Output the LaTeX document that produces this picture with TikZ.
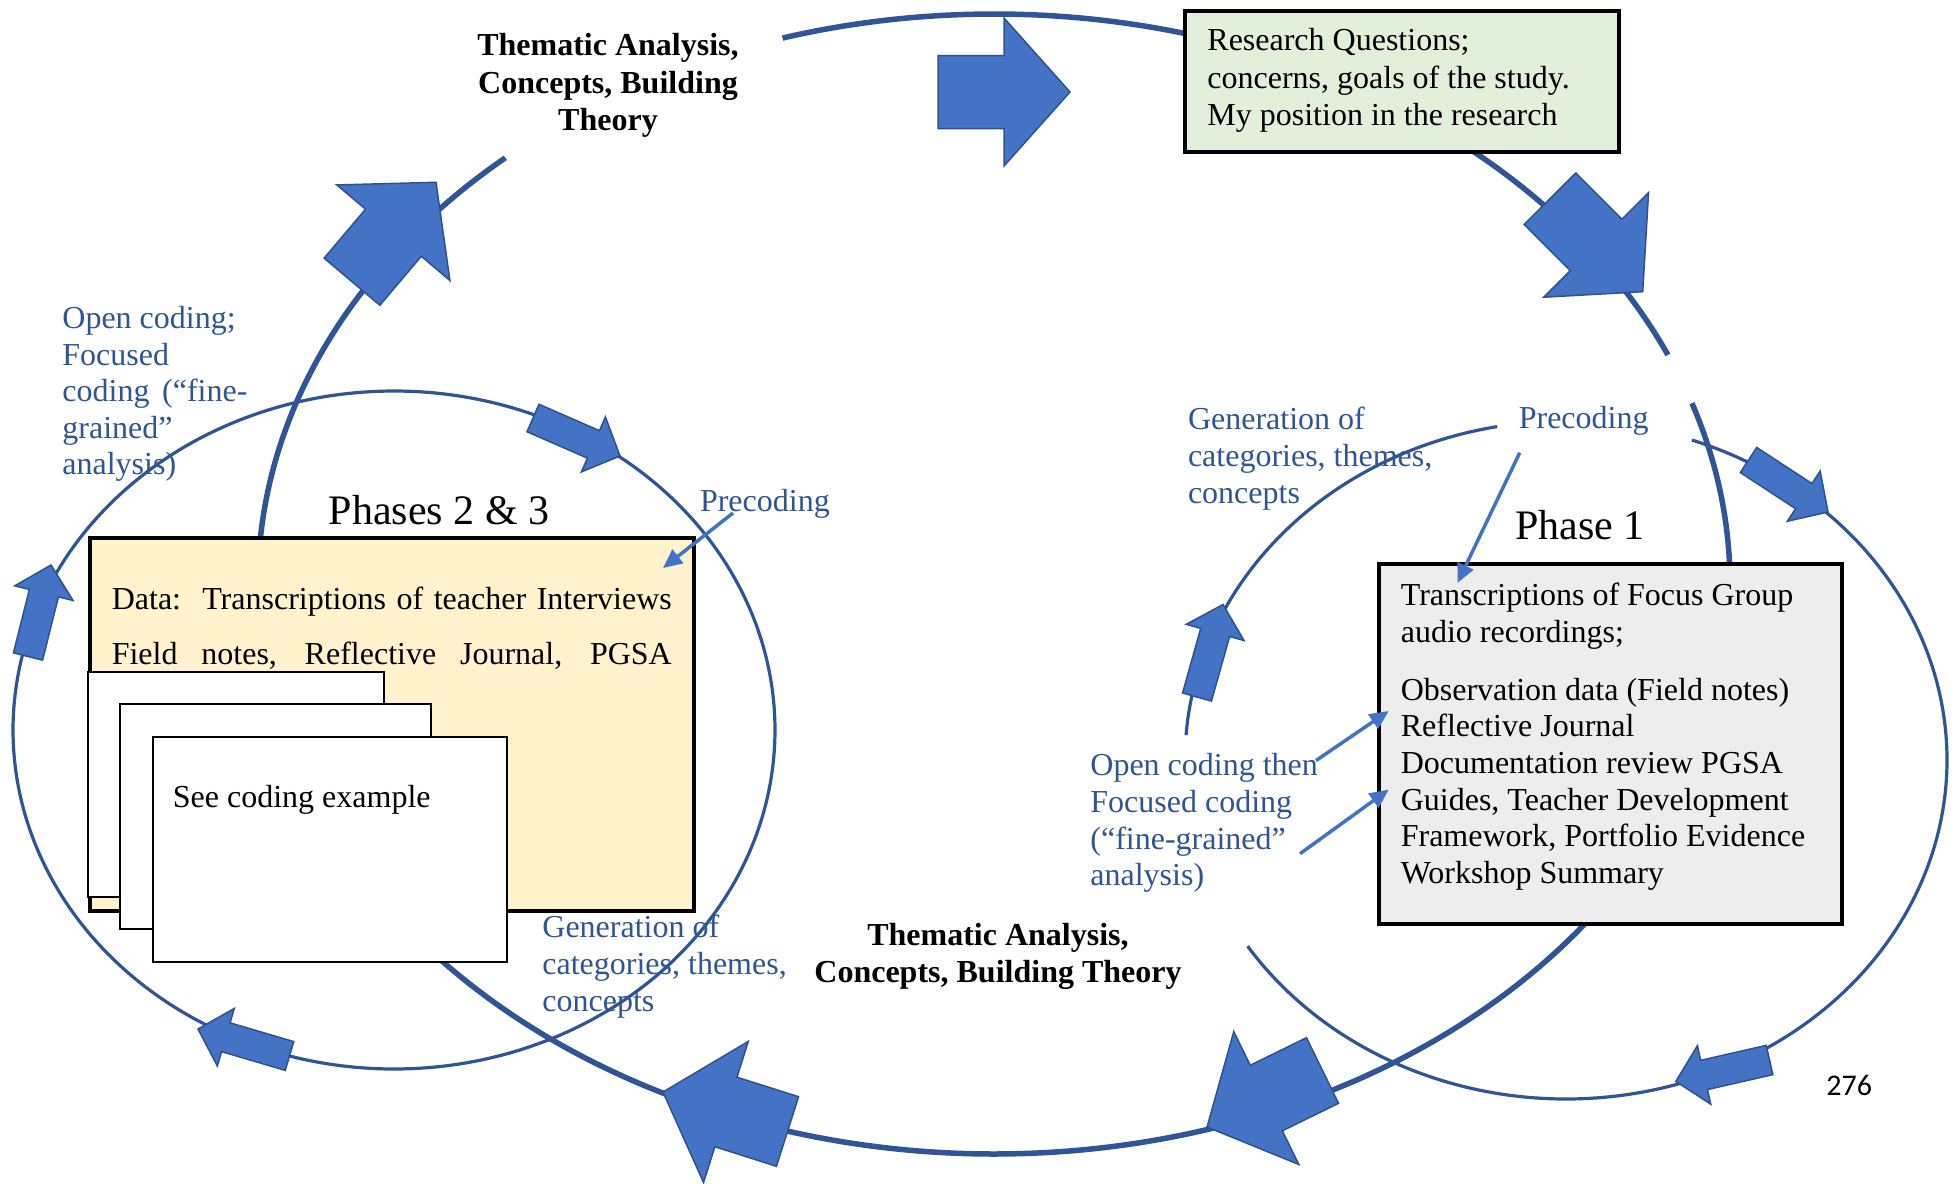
\documentclass[tikz,border=0pt]{standalone}
\usepackage{fontspec}
\setmainfont{Liberation Serif}
\newfontfamily\pagenumfont{Carlito}
\usetikzlibrary{calc,arrows.meta}

\definecolor{loopblue}{HTML}{2F5597}
\definecolor{arrowfill}{HTML}{4472C4}
\definecolor{arrowedge}{HTML}{2F528F}
\definecolor{labelblue}{HTML}{2F5597}
\definecolor{greenfill}{HTML}{E2EFDA}
\definecolor{yellowfill}{HTML}{FFF2CC}
\definecolor{grayfill}{HTML}{EDEDED}

\tikzset{
  bigloop/.style={draw=loopblue, line width=2.75pt},
  thinloop/.style={draw=loopblue, line width=1.6pt},
  blockarrow/.style={fill=arrowfill, draw=arrowedge, line width=0.75pt, line join=miter},
  databox/.style={draw=black, line width=1.8pt, inner ysep=0pt, anchor=north west},
  card/.style={draw=black, fill=white, line width=0.9pt, inner sep=0pt, anchor=north west},
  bluetext/.style={text=labelblue, inner sep=0pt, font=\fontsize{16}{18.5}\selectfont},
  boldtext/.style={inner sep=0pt, font=\fontsize{16}{18.75}\selectfont\bfseries},
  phasetitle/.style={inner sep=0pt, font=\fontsize{21}{25}\selectfont},
  pointer/.style={draw=arrowfill, line width=1.75pt, -{Triangle[length=9.5pt,width=8.5pt]}},
}

% block arrow: tail, tip, head length, shaft half width, head half width
\newcommand\flowarrow[5]{%
  \coordinate (fa-tail) at (#1);
  \coordinate (fa-tip) at (#2);
  \coordinate (fa-neck) at ($(fa-tip)!#3!(fa-tail)$);
  \path[blockarrow]
    ($(fa-tail)!#4!90:(fa-tip)$) -- ($(fa-neck)!#4!90:(fa-tip)$) --
    ($(fa-neck)!#5!90:(fa-tip)$) -- (fa-tip) --
    ($(fa-neck)!#5!-90:(fa-tip)$) -- ($(fa-neck)!#4!-90:(fa-tip)$) --
    ($(fa-tail)!#4!-90:(fa-tip)$) -- cycle;
}
\newcommand\bigflow[2]{\flowarrow{#1}{#2}{33pt}{18.25pt}{37pt}}
\newcommand\smallflow[2]{\flowarrow{#1}{#2}{14.5pt}{7.5pt}{15pt}}

\begin{document}
\begin{tikzpicture}[x=0.5pt, y=-0.5pt]
  \useasboundingbox (0,0) rectangle (1957,1183);
  \fill[white] (0,0) rectangle (1957,1183);

  % large outer cycle
  \draw[bigloop] plot[domain=131.6:378.5, samples=240, smooth] ({994+736*cos(\x)},{584-570*sin(\x)});
  \draw[bigloop] plot[domain=383.7:466.7, samples=90, smooth] ({994+736*cos(\x)},{584-570*sin(\x)});

  % cycle of phases 2 and 3
  \draw[thinloop] plot[domain=0:360, samples=240, smooth] ({394+381*cos(\x)},{730-339*sin(\x)}) -- cycle;

  % cycle of phase 1
  \draw[thinloop] plot[domain=100.4:175.8, samples=80, smooth] ({1566+381*cos(\x)},{760-339*sin(\x)});
  \draw[thinloop] plot[domain=213.3:430.7, samples=220, smooth] ({1566+381*cos(\x)},{760-339*sin(\x)});

  % boxes
  \node[databox, fill=greenfill, inner xsep=11.3pt, font=\fontsize{16}{18.6}\selectfont] (rq) at (1183,9)
    {\parbox[c][70.5pt][t]{194.4pt}{\raggedright\vspace*{7pt}\strut Research Questions;\\concerns, goals of the study.\\My position in the research}};

  \node[databox, fill=yellowfill, inner xsep=11pt, font=\fontsize{16}{27.5}\selectfont] (phase23) at (88,536)
    {\parbox[c][186.5pt][t]{280pt}{\vspace*{16.75pt}\strut\makebox[280pt][s]{Data:\ \ Transcriptions of teacher Interviews}\par
     \makebox[280pt][s]{Field notes, Reflective Journal, PGSA}}};

  \node[card, minimum width=148pt, minimum height=112.5pt] (card1) at (87,671) {};
  \node[card, minimum width=155.5pt, minimum height=112.5pt] (card2) at (119,703) {};
  \node[card, inner xsep=10pt, font=\fontsize{16}{18.5}\selectfont] (card3) at (152,736)
    {\parbox[c][112.5pt][t]{157pt}{\vspace*{22.55pt}\strut See coding example}};

  \node[databox, fill=grayfill, inner xsep=11pt, font=\fontsize{16}{18.35}\selectfont] (phase1) at (1377,562)
    {\parbox[c][180pt][t]{209.5pt}{\raggedright\vspace*{8pt}\strut Transcriptions of Focus Group\\audio recordings;\\[10.6pt]Observation data (Field notes)\\Reflective Journal\\Documentation review PGSA\\Guides, Teacher Development\\Framework, Portfolio Evidence\\Workshop Summary}};

  % titles
  \node[phasetitle, anchor=base] (phase23title) at (439,524) {Phases 2 \& 3};
  \node[phasetitle, anchor=base] (phase1title) at (1580,539) {Phase 1};

  \node[boldtext, align=center, anchor=north] (themetop) at (608,29.25)
    {\strut Thematic Analysis,\\Concepts, Building\\Theory};
  \node[boldtext, align=center, anchor=north] (themebot) at (998,918.75)
    {\strut Thematic Analysis,\\Concepts, Building Theory};

  % process labels
  \node[bluetext, align=left, anchor=north west, font=\fontsize{16}{18.2}\selectfont] (opencodeL) at (62,303)
    {\strut Open coding;\\Focused\\\makebox[92.5pt][s]{coding (“fine-}\\grained”\\analysis)};
  \node[bluetext, anchor=base west] (precodeL) at (699.6,511) {Precoding};
  \node[bluetext, anchor=base west] (precodeR) at (1518.4,428.3) {Precoding};
  \node[bluetext, align=left, anchor=north west] (genR) at (1187.6,402.7)
    {\strut Generation of\\categories, themes,\\concepts};
  \node[bluetext, align=left, anchor=north west] (genL) at (542,911)
    {\strut Generation of\\categories, themes,\\concepts};
  \node[bluetext, align=left, anchor=north west, font=\fontsize{16}{18.35}\selectfont] (opencodeR) at (1090,749.6)
    {\strut Open coding then\\Focused coding\\(“fine-grained”\\analysis)};

  \node[anchor=base west, inner sep=0pt, font=\pagenumfont\fontsize{15}{18}\selectfont] (pagenum) at (1826,1095.7) {276};

  % block arrows on the outer cycle
  \bigflow{938,92}{1070,92}
  \bigflow{1550,198.7}{1642.7,291.7}
  \bigflow{352,281.7}{436,182.3}
  \bigflow{787.5,1131.5}{663,1092}
  \bigflow{1322.5,1070.5}{1207,1127}

  % block arrows on the phase cycles
  \smallflow{533,418}{620,456}
  \smallflow{28,656.5}{51,565}
  \smallflow{289.5,1056}{198,1029}
  \smallflow{1197,697}{1223,604.5}
  \smallflow{1748.5,460}{1828,512}
  \smallflow{1769.5,1060}{1675.8,1081.4}

  % pointers from labels into the data boxes
  \coordinate (pl-from) at (733,513);
  \coordinate (pl-to) at (663,568);
  \coordinate (pr-from) at (1519.7,452.7);
  \coordinate (pr-to) at (1457.4,583);
  \coordinate (oc1-from) at (1316,760.5);
  \coordinate (oc1-to) at (1388.7,711);
  \coordinate (oc2-from) at (1300,853.7);
  \coordinate (oc2-to) at (1388.7,789.6);
  \draw[pointer] (pl-from) -- (pl-to);
  \draw[pointer] (pr-from) -- (pr-to);
  \draw[pointer] (oc1-from) -- (oc1-to);
  \draw[pointer] (oc2-from) -- (oc2-to);
\end{tikzpicture}
\end{document}
